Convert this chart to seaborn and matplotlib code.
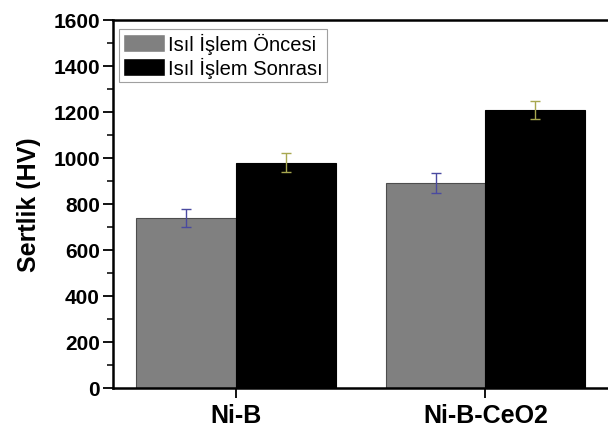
import pandas as pd
import matplotlib.pyplot as plt
import seaborn as sns

sns.set_style("ticks")
plt.rcParams['font.family'] = ['Liberation Sans', 'DejaVu Sans']
plt.rcParams['text.color'] = 'black'
plt.rcParams['axes.labelcolor'] = 'black'
plt.rcParams['xtick.color'] = 'black'
plt.rcParams['ytick.color'] = 'black'
plt.rcParams['axes.edgecolor'] = 'black'

# values
samples = ["Ni-B", "Ni-B-CeO2"]
groups = ["Isıl İşlem Öncesi", "Isıl İşlem Sonrası"]
hardness_before = [740, 890]
hardness_after = [980, 1210]
err_before = [40, 43]
err_after = [40, 40]

df = pd.DataFrame({
    "Sample": samples * 2,
    "Group": [groups[0]] * 2 + [groups[1]] * 2,
    "Hardness": hardness_before + hardness_after,
})

fig = plt.figure(figsize=(6.08, 4.27), dpi=100)
ax = fig.add_axes([113 / 608, 38 / 427, 497 / 608, 368 / 427])

sns.barplot(data=df, x="Sample", y="Hardness", hue="Group",
            palette=["#808080", "#000000"], errorbar=None,
            saturation=1, width=0.8, ax=ax)

# bar edges + error bars
ecols = ["#4a4aa0", "#a8a850"]
errs = [err_before, err_after]
bar_conts = list(ax.containers)
for i, cont in enumerate(bar_conts):
    for j, bar in enumerate(cont):
        bar.set_edgecolor("#4d4d4d" if i == 0 else "black")
        bar.set_linewidth(0.8)
        xc = bar.get_x() + bar.get_width() / 2
        ax.errorbar(xc, bar.get_height(), yerr=errs[i][j], color=ecols[i],
                    capsize=3.5, elinewidth=1, capthick=1, fmt="none", zorder=5)

ax.set_ylim(0, 1600)
ax.set_xlim(-0.494, 1.5)
ax.set_yticks(range(0, 1601, 200))
ax.set_yticks(range(100, 1600, 200), minor=True)
ax.tick_params(axis="both", which="major", direction="out", length=7, width=1.3,
               pad=2.5)
ax.tick_params(axis="y", which="major", labelsize=15)
ax.tick_params(axis="x", which="major", labelsize=18, pad=4)
ax.tick_params(axis="y", which="minor", direction="out", length=4, width=1.1)
for lab in ax.get_yticklabels() + ax.get_xticklabels():
    lab.set_fontweight("bold")

ax.set_xlabel("")
ax.set_ylabel("Sertlik (HV)", fontsize=18, fontweight="bold", labelpad=9)

for s in ["left", "bottom", "top"]:
    ax.spines[s].set_linewidth(1.8)
ax.spines["right"].set_linewidth(1.0)
ax.spines["right"].set_color("#999999")

leg = ax.legend(loc="upper left", bbox_to_anchor=(0.012, 0.975), fontsize=14.5,
                frameon=True, fancybox=False, edgecolor="#888888",
                handlelength=2.1, handleheight=1.0, labelspacing=0.15,
                handletextpad=0.15, borderpad=0.2, borderaxespad=0)
leg.get_frame().set_linewidth(0.8)

fig.savefig("out.png", dpi=100)
